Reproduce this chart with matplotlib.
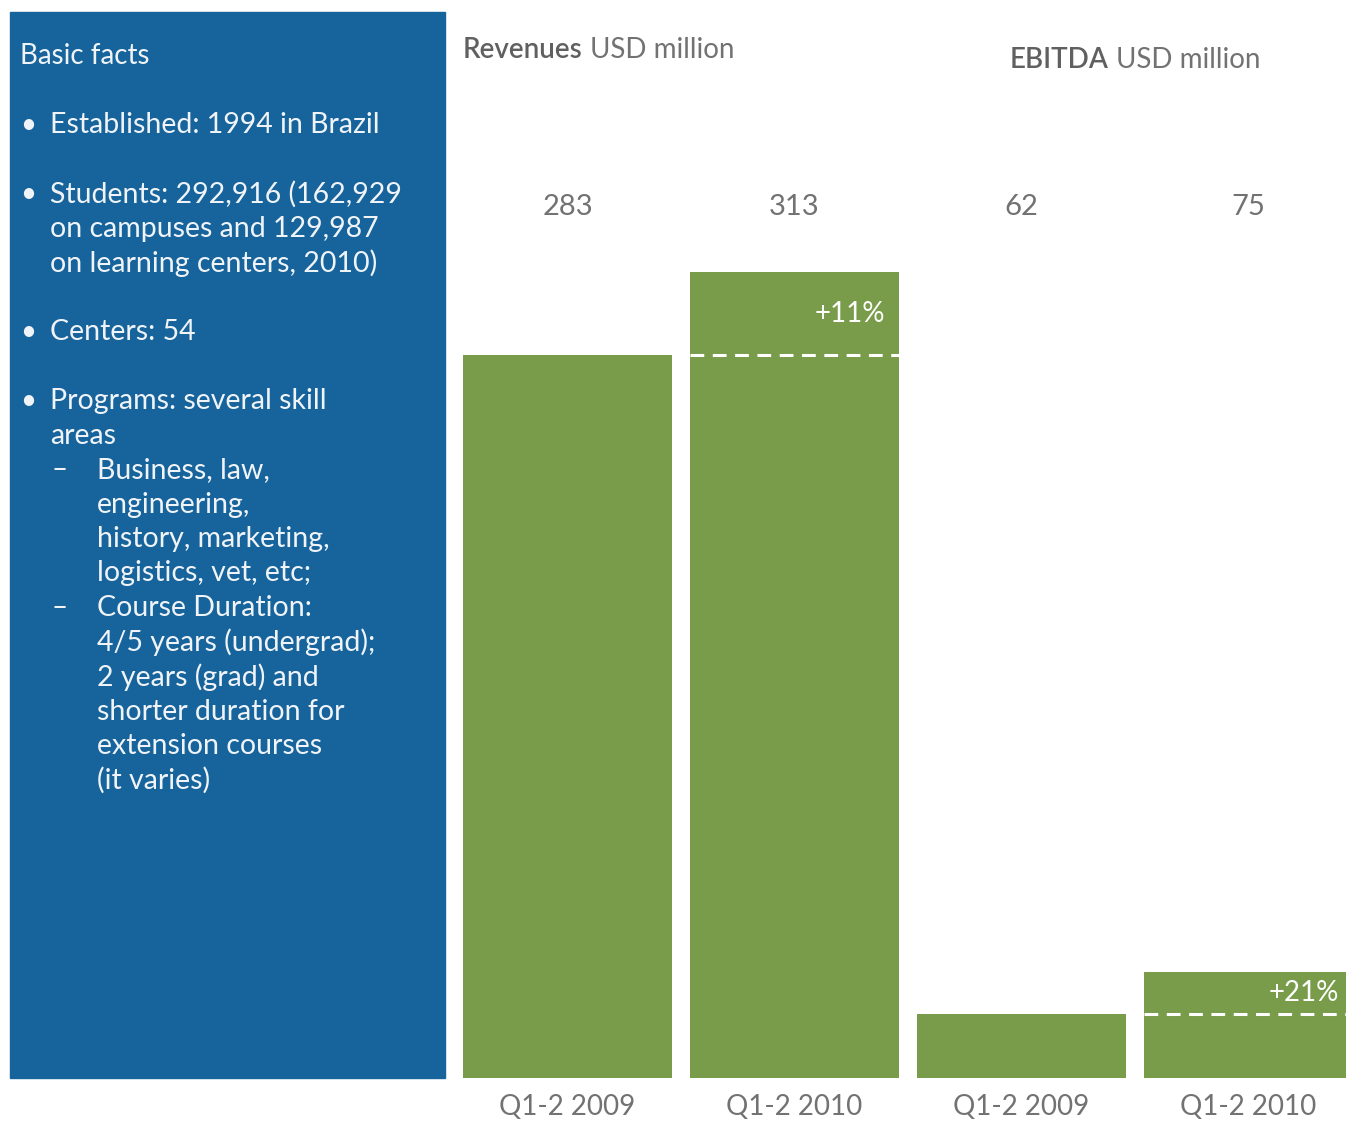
import matplotlib.pyplot as plt
from matplotlib.patches import Rectangle

plt.rcParams['font.family'] = ['Lato', 'DejaVu Sans']

# Revenue and EBITDA, USD million
periods = ['Q1-2 2009', 'Q1-2 2010']
revenues = [283, 313]
ebitda = [62, 75]
revenue_growth = '+11%'
ebitda_growth = '+21%'

facts_title = 'Basic facts'
# (kind, text) - kind: 'b' bullet, 'c' continuation, 'd' dash item, 'dc' dash continuation
facts = [
    ('b', 'Established: 1994 in Brazil'),
    ('gap', ''),
    ('b', 'Students: 292,916 (162,929'),
    ('c', 'on campuses and 129,987'),
    ('c', 'on learning centers, 2010)'),
    ('gap', ''),
    ('b', 'Centers: 54'),
    ('gap', ''),
    ('b', 'Programs: several skill'),
    ('c', 'areas'),
    ('d', 'Business, law,'),
    ('dc', 'engineering,'),
    ('dc', 'history, marketing,'),
    ('dc', 'logistics, vet, etc;'),
    ('d', 'Course Duration:'),
    ('dc', '4/5 years (undergrad);'),
    ('dc', '2 years (grad) and'),
    ('dc', 'shorter duration for'),
    ('dc', 'extension courses'),
    ('dc', '(it varies)'),
]

BLUE = '#16649b'
GREEN = '#789c49'
GREY = '#727272'
PANEL_TEXT = '#f0f4f8'
W, H = 1346, 1124

fig = plt.figure(figsize=(W / 100, H / 100), dpi=100)


def fx(x):
    return x / W


def fy(y):
    return 1 - y / H


# blue facts panel
fig.add_artist(Rectangle((fx(10), fy(1078)), fx(435), 1066 / H,
                         transform=fig.transFigure, color=BLUE, zorder=0))
fig.text(fx(20), fy(56), facts_title, color=PANEL_TEXT, fontsize=20, va='center')

y = 125
step = 34.5
for kind, text in facts:
    if kind == 'gap':
        y += step
        continue
    if kind == 'b':
        fig.text(fx(20), fy(y), '\u2022', color=PANEL_TEXT, fontsize=20, va='center')
        x = 50
    elif kind == 'c':
        x = 50
    elif kind == 'd':
        fig.text(fx(52), fy(y), '\u2013', color=PANEL_TEXT, fontsize=20, va='center')
        x = 97
    else:
        x = 97
    fig.text(fx(x), fy(y), text, color=PANEL_TEXT, fontsize=20.5, va='center')
    y += step


def bar_panel(left, right, values, growth, ylo, scale, title, title_x, title_y):
    top_px = 160
    ax = fig.add_axes([fx(left), fy(1078), fx(right - left), (1078 - top_px) / H])
    ax.set_xlim(-0.5, 1.5)
    ax.set_ylim(ylo, ylo + (1078 - top_px) / scale)
    ax.axis('off')
    width = 209 / 227
    ax.bar(range(len(values)), values, width=width, color=GREEN)
    # previous period level
    ax.plot([1 - width / 2, 1 + width / 2], [values[0], values[0]],
            color='white', lw=2.2, dashes=(4.5, 2.8))
    ax.annotate(growth, xy=(1 + width / 2, (values[0] + values[1]) / 2),
                xytext=(-10, 0), textcoords='offset points',
                ha='right', va='center', color='white', fontsize=20)
    yfrac = (1078 - 207) / (1078 - top_px)
    lfrac = (1078 - 1107) / (1078 - top_px)
    tr = ax.get_xaxis_transform()
    for i, v in enumerate(values):
        ax.text(i, yfrac, str(v), ha='center', va='center', color=GREY,
                fontsize=21, transform=tr)
        ax.text(i, lfrac, periods[i], ha='center', va='center', color=GREY,
                fontsize=20, transform=tr)
    t = fig.text(fx(title_x), fy(title_y), title, color='#606060',
                 fontsize=20, fontweight='semibold', va='center')
    ax.annotate(' USD million', xy=(1, 0.5), xycoords=t, ha='left', va='center',
                color=GREY, fontsize=20, annotation_clip=False)
    return ax


bar_panel(454, 908, revenues, revenue_growth, 20, 2.75, 'Revenues', 463, 50)
bar_panel(908, 1362, ebitda, ebitda_growth, 42.2, 3.23, 'EBITDA', 1010, 60)

fig.savefig('out.png', dpi=100)
